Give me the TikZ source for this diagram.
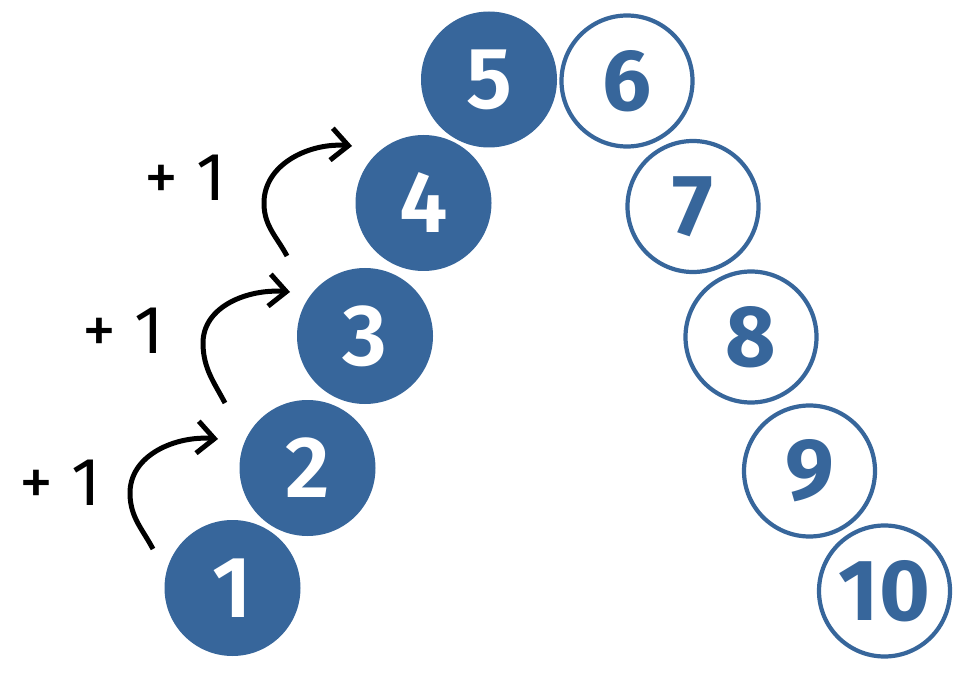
\documentclass[tikz,border=0pt]{standalone}
\usepackage{fontspec}
\setmainfont{Fira Sans}
\newfontfamily\semib{Fira Sans SemiBold}
\usetikzlibrary{arrows.meta}
\definecolor{nblue}{HTML}{37669B}
\begin{document}
\begin{tikzpicture}[x=1pt,y=1pt,
  filled/.style={circle,fill=nblue,inner sep=0pt,minimum size=136pt,text=white,font=\semib\fontsize{87}{87}\selectfont},
  hollow/.style={circle,draw=nblue,line width=4.2pt,fill=white,inner sep=0pt,minimum size=131pt,text=nblue,font=\bfseries\fontsize{87}{87}\selectfont},
  plus/.style={inner sep=0pt,anchor=base,font=\fontsize{68}{68}\selectfont},
  arr/.style={line width=5pt,-{Straight Barb[length=17pt,width=32pt]}}]
\useasboundingbox (0,0) rectangle (963,689);
\node[filled] (c1) at (232.5,101) {1};
\node[filled] (c2) at (307.5,221) {2};
\node[filled] (c3) at (365,353) {3};
\node[filled] (c4) at (423.5,486) {4};
\node[filled] (c5) at (489,609.5) {5};
\node[hollow] (c6) at (627,608) {6};
\node[hollow] (c7) at (693,482.5) {7};
\node[hollow] (c8) at (751,352) {8};
\node[hollow] (c9) at (809.5,218) {9};
\node[hollow] (c10) at (884.5,98) {10};
\node[plus] (p1) at (60,184) {+ 1};
\node[plus] (p2) at (123,336) {+ 1};
\node[plus] (p3) at (185.5,488) {+ 1};
\coordinate (s1) at (153,140); \coordinate (m1) at (130,194); \coordinate (t1) at (218,250);
\coordinate (s2) at (225,286); \coordinate (m2) at (203,344); \coordinate (t2) at (290,397);
\coordinate (s3) at (287,433); \coordinate (m3) at (264,484); \coordinate (t3) at (352,543);
\draw[arr] (s1) to[out=118,in=-88] (m1) to[out=92,in=175] (t1);
\draw[arr] (s2) to[out=118,in=-88] (m2) to[out=92,in=175] (t2);
\draw[arr] (s3) to[out=118,in=-88] (m3) to[out=92,in=175] (t3);
\end{tikzpicture}
\end{document}
